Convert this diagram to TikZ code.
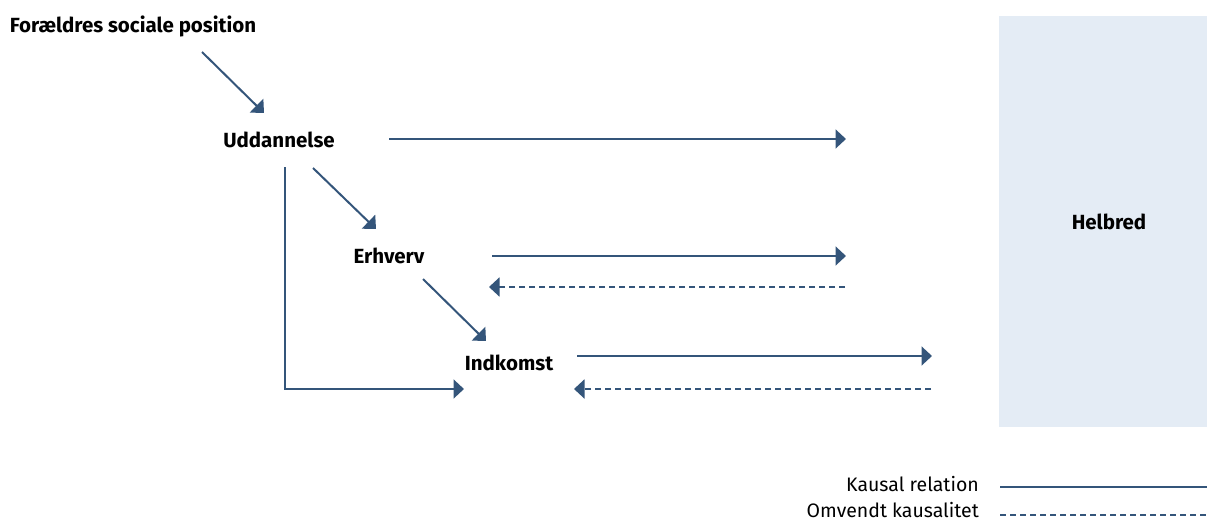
\documentclass[tikz,border=0pt]{standalone}
\usepackage{fontspec}
\setmainfont{Fira Sans}
\usetikzlibrary{arrows.meta}
\definecolor{arrowblue}{HTML}{34557A}
\definecolor{boxfill}{HTML}{E4ECF5}
\tikzset{
  lbl/.style={font=\bfseries\fontsize{20.5}{24}\selectfont, text=black, inner sep=0pt, anchor=base},
  leg/.style={font=\fontsize{19.5}{23}\selectfont, text=black, inner sep=0pt, anchor=base east},
  causal/.style={draw=arrowblue, line width=2pt, -{Triangle[length=10.5pt,width=19pt]}},
  reverse/.style={draw=arrowblue, line width=2pt, dash pattern=on 6pt off 4pt, -{Triangle[length=10.5pt,width=19pt]}},
  legsolid/.style={draw=arrowblue, line width=2pt},
  legdash/.style={draw=arrowblue, line width=2pt, dash pattern=on 6pt off 4pt},
}
\begin{document}
\begin{tikzpicture}[x=1pt,y=-1pt]
\useasboundingbox (0,0) rectangle (1207,522);
% Helbred box
\node[fill=boxfill, minimum width=208pt, minimum height=411pt, inner sep=0pt, anchor=north west] (helbredbox) at (999,16) {};
\node[lbl] (helbred) at (1109,229) {Helbred};
% labels
\node[lbl] (foraeldre) at (133,32) {Forældres sociale position};
\node[lbl] (uddannelse) at (279,147) {Uddannelse};
\node[lbl] (erhverv) at (389,263) {Erhverv};
\node[lbl] (indkomst) at (509,370) {Indkomst};
% coordinates
\coordinate (a1s) at (202,52);  \coordinate (a1e) at (264,113);
\coordinate (a2s) at (313,168); \coordinate (a2e) at (376,229);
\coordinate (a3s) at (423,279); \coordinate (a3e) at (486,341);
\coordinate (u1s) at (389,139); \coordinate (u1e) at (846,139);
\coordinate (e1s) at (492,256); \coordinate (e1e) at (846,256);
\coordinate (e2s) at (845,287); \coordinate (e2e) at (489,287);
\coordinate (i1s) at (577,356); \coordinate (i1e) at (932,356);
\coordinate (i2s) at (931,389); \coordinate (i2e) at (574,389);
\coordinate (ls) at (285,167);  \coordinate (lc) at (285,389); \coordinate (le) at (464,389);
% arrows
\draw[causal] (a1s) -- (a1e);
\draw[causal] (a2s) -- (a2e);
\draw[causal] (a3s) -- (a3e);
\draw[causal] (u1s) -- (u1e);
\draw[causal] (e1s) -- (e1e);
\draw[reverse] (e2s) -- (e2e);
\draw[causal] (i1s) -- (i1e);
\draw[reverse] (i2s) -- (i2e);
\draw[causal] (ls) -- (lc) -- (le);
% legend
\node[leg] (kausal) at (979,491) {Kausal relation};
\node[leg] (omvendt) at (979,517) {Omvendt kausalitet};
\coordinate (k1) at (1000,487); \coordinate (k2) at (1207,487);
\coordinate (o1) at (1000,515); \coordinate (o2) at (1207,515);
\draw[legsolid] (k1) -- (k2);
\draw[legdash] (o1) -- (o2);
\end{tikzpicture}
\end{document}
